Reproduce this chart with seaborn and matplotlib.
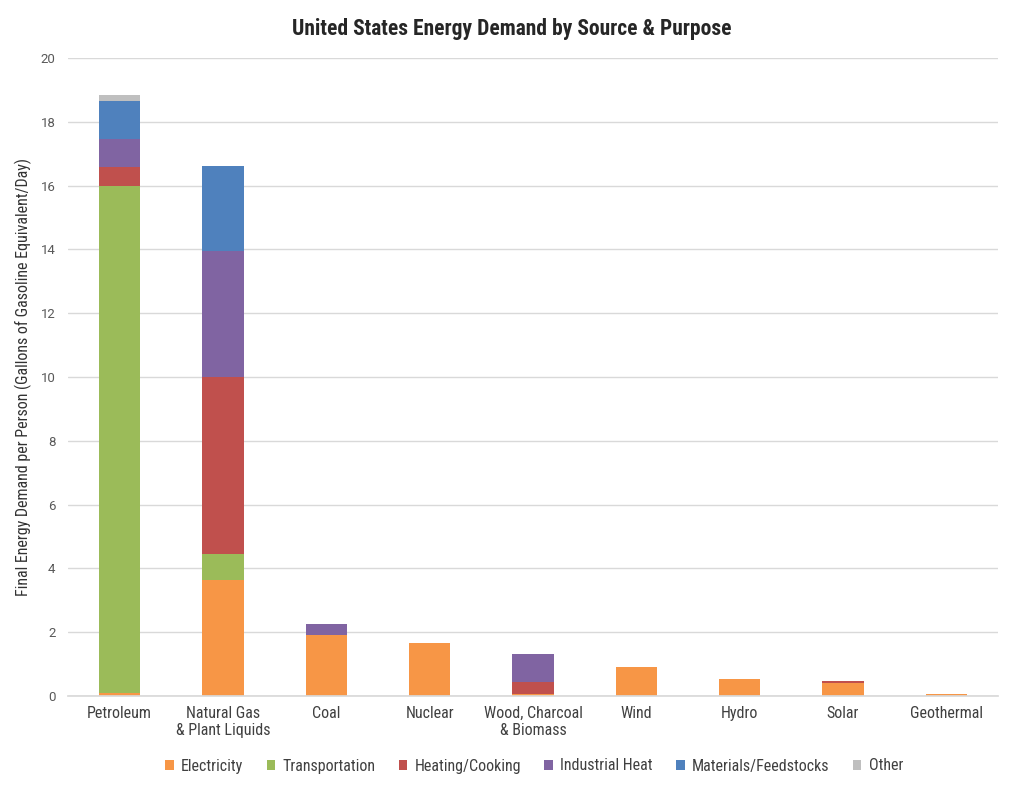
import numpy as np
import pandas as pd
import matplotlib
matplotlib.use("Agg")
import matplotlib.pyplot as plt
import seaborn as sns
from matplotlib.patches import Patch

sources = ["Petroleum", "Natural Gas\n& Plant Liquids", "Coal", "Nuclear",
           "Wood, Charcoal\n& Biomass", "Wind", "Hydro", "Solar", "Geothermal"]
purposes = ["Electricity", "Transportation", "Heating/Cooking", "Industrial Heat",
            "Materials/Feedstocks", "Other"]

electricity    = [0.10, 3.64, 1.90, 1.66, 0.07, 0.92, 0.54, 0.40, 0.06]
transportation = [15.90, 0.81, 0.0, 0.0, 0.0, 0.0, 0.0, 0.0, 0.0]
heating        = [0.59, 5.55, 0.0, 0.0, 0.37, 0.0, 0.0, 0.08, 0.0]
industrial     = [0.87, 3.95, 0.36, 0.0, 0.88, 0.0, 0.0, 0.0, 0.0]
materials      = [1.20, 2.65, 0.0, 0.0, 0.0, 0.0, 0.0, 0.0, 0.0]
other          = [0.18, 0.0, 0.0, 0.0, 0.0, 0.0, 0.0, 0.0, 0.0]

colors = ["#F79646", "#9BBB59", "#C0504D", "#8064A2", "#4F81BD", "#BFBFBF"]

sns.set_theme(style="white")
plt.rcParams['font.family'] = ['Roboto Condensed', 'DejaVu Sans']

fig = plt.figure(figsize=(10.24, 7.96), dpi=100)
ax = fig.add_axes([68/1024, 100/796, 930/1024, 638/796])

series = [electricity, transportation, heating, industrial, materials, other]
bottom = np.zeros(len(sources))
for name, vals, col in zip(purposes, series, colors):
    df = pd.DataFrame({"source": sources, "value": vals})
    sns.barplot(data=df, x="source", y="value", order=sources, color=col,
                bottom=bottom.copy(), width=0.4, ax=ax, linewidth=0,
                saturation=1)
    bottom += np.array(vals)

ax.set_xlim(-0.5, len(sources) - 0.5)
ax.set_ylim(0, 20)
ax.set_yticks(np.arange(0, 21, 2))
ax.grid(axis="y", color="#D9D9D9", linewidth=1)
ax.set_axisbelow(True)
for s in ["top", "right", "left"]:
    ax.spines[s].set_visible(False)
ax.spines["bottom"].set_color("#D9D9D9")
ax.tick_params(axis="y", length=0, labelsize=9.5, labelcolor="#595959", pad=9)
for t in ax.get_yticklabels():
    t.set_fontfamily(['Roboto', 'DejaVu Sans'])
ax.tick_params(axis="x", length=0, labelsize=11.5, labelcolor="#404040", pad=7)
ax.set_xlabel("")
ax.set_ylabel("Final Energy Demand per Person (Gallons of Gasoline Equivalent/Day)",
              fontsize=11.5, color="#333333", labelpad=6)
fig.suptitle("United States Energy Demand by Source & Purpose", x=0.5, y=0.978,
             fontsize=15.5, fontweight="bold", color="#262626")

handles = [Patch(facecolor=c, edgecolor="none", label=p) for p, c in zip(purposes, colors)]
fig.legend(handles=handles, loc="center", bbox_to_anchor=(0.5215, 1 - 766/796),
           ncol=6, frameon=False, fontsize=11.5, handlelength=0.55, handleheight=0.55,
           columnspacing=1.45, handletextpad=0.45, labelcolor="#404040")

fig.savefig("out.png", dpi=100)
